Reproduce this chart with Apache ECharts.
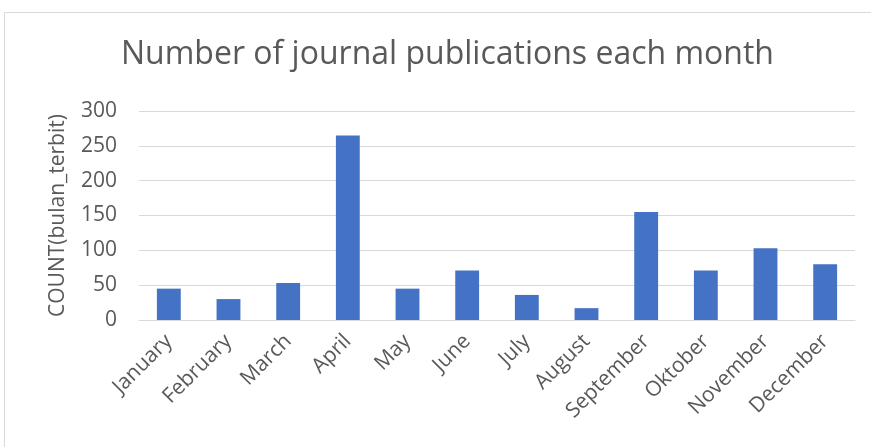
<!DOCTYPE html>
<html>
<head>
<meta charset="utf-8">
<script src="https://cdn.jsdelivr.net/npm/echarts@6/dist/echarts.min.js"></script>
<style>
  html, body { margin: 0; padding: 0; background: #fff; }
  #chart { width: 871px; height: 447px; }
</style>
</head>
<body>
<div id="chart"></div>
<script>
const months = ['January', 'February', 'March', 'April', 'May', 'June', 'July', 'August', 'September', 'Oktober', 'November', 'December']
const counts = [45, 30, 53, 265, 45, 71, 36, 17, 155, 71, 103, 80]
const yTicks = [0, 50, 100, 150, 200, 250, 300]

const chart = echarts.init(document.getElementById('chart'))
const font = 'Open Sans'
const grey = '#595959'

chart.setOption({
  animation: false,
  graphic: [{
    type: 'rect',
    shape: { x: 4.5, y: 12.5, width: 880, height: 450 },
    style: { fill: 'none', stroke: '#d9d9d9', lineWidth: 1 },
    silent: true
  }],
  title: {
    text: 'Number of journal publications each month',
    left: 116,
    top: 34,
    textStyle: { fontFamily: font, fontSize: 32, fontWeight: 'normal', color: grey }
  },
  grid: { left: 139, right: 16, top: 111, bottom: 127 },
  xAxis: {
    type: 'category',
    data: months,
    axisLine: { lineStyle: { color: '#d9d9d9', width: 1 } },
    axisTick: { show: false },
    axisLabel: { rotate: 45, interval: 0, margin: 18, color: grey, fontFamily: font, fontSize: 21 }
  },
  yAxis: {
    type: 'value',
    min: yTicks[0],
    max: yTicks[yTicks.length - 1],
    interval: 50,
    name: 'COUNT(bulan_terbit)',
    nameLocation: 'middle',
    nameGap: 70,
    nameTextStyle: { color: grey, fontFamily: font, fontSize: 21 },
    axisLine: { show: false },
    axisTick: { show: false },
    axisLabel: { color: grey, fontFamily: font, fontSize: 21, margin: 22 },
    splitLine: { lineStyle: { color: '#d9d9d9', width: 1 } }
  },
  series: [{
    type: 'bar',
    data: counts,
    barWidth: '40%',
    itemStyle: { color: '#4472c4' }
  }]
})
</script>
</body>
</html>
